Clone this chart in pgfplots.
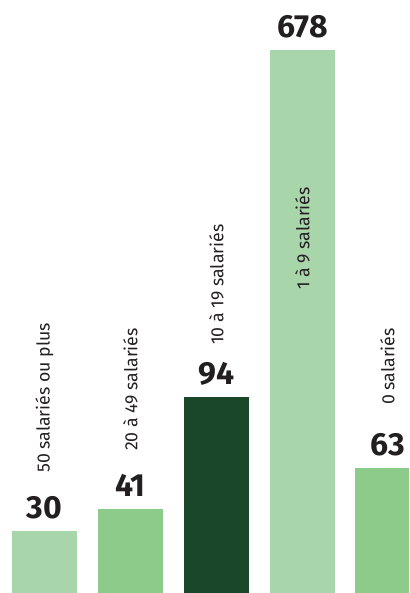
\documentclass[border=0pt]{standalone}
\usepackage{pgfplots}
\pgfplotsset{compat=1.18}
\usepackage{fontspec}
\setmainfont{Fira Sans}
\definecolor{lg}{HTML}{A8D5AA}
\definecolor{mg}{HTML}{8CCB8A}
\definecolor{dg}{HTML}{1A4629}
\definecolor{txt}{HTML}{231F20}
\begin{document}
\begin{tikzpicture}
\begin{axis}[
  scale only axis, width=409pt, height=593pt,
  xmin=0, xmax=409, ymin=0, ymax=593,
  axis lines=none, ticks=none,
  clip=true,
  ybar, bar width=65, bar shift=0pt,
  point meta=explicit symbolic,
  nodes near coords,
  every node near coord/.style={anchor=base, yshift=12pt, inner sep=0pt,
     font=\fontsize{32}{33}\selectfont\bfseries, text=txt},
]
\addplot[fill=lg, draw=none, bar shift=0pt] coordinates {(44.5,62) [30]};
\addplot[fill=mg, draw=none, bar shift=0pt] coordinates {(130.5,84) [41]};
\addplot[fill=dg, draw=none, bar shift=0pt] coordinates {(216.5,196) [94]};
\addplot[fill=lg, draw=none, bar shift=0pt] coordinates {(302.5,543) [678]};
\addplot[fill=mg, draw=none, bar shift=0pt] coordinates {(387.5,125) [63]};
\begin{scope}[every node/.style={rotate=90, anchor=west, inner sep=0pt, text=txt, font=\fontsize{17.7}{18}\selectfont}]
\node at (axis cs:44.5,120) {50 salariés ou plus};
\node at (axis cs:130.5,142) {20 à 49 salariés};
\node at (axis cs:216.5,248) {10 à 19 salariés};
\node at (axis cs:302.5,303) {1 à 9 salariés};
\node at (axis cs:387.5,188) {0 salariés};
\end{scope}
\end{axis}
\path[use as bounding box] (current axis.south west) rectangle (current axis.north east);
\end{tikzpicture}
\end{document}
